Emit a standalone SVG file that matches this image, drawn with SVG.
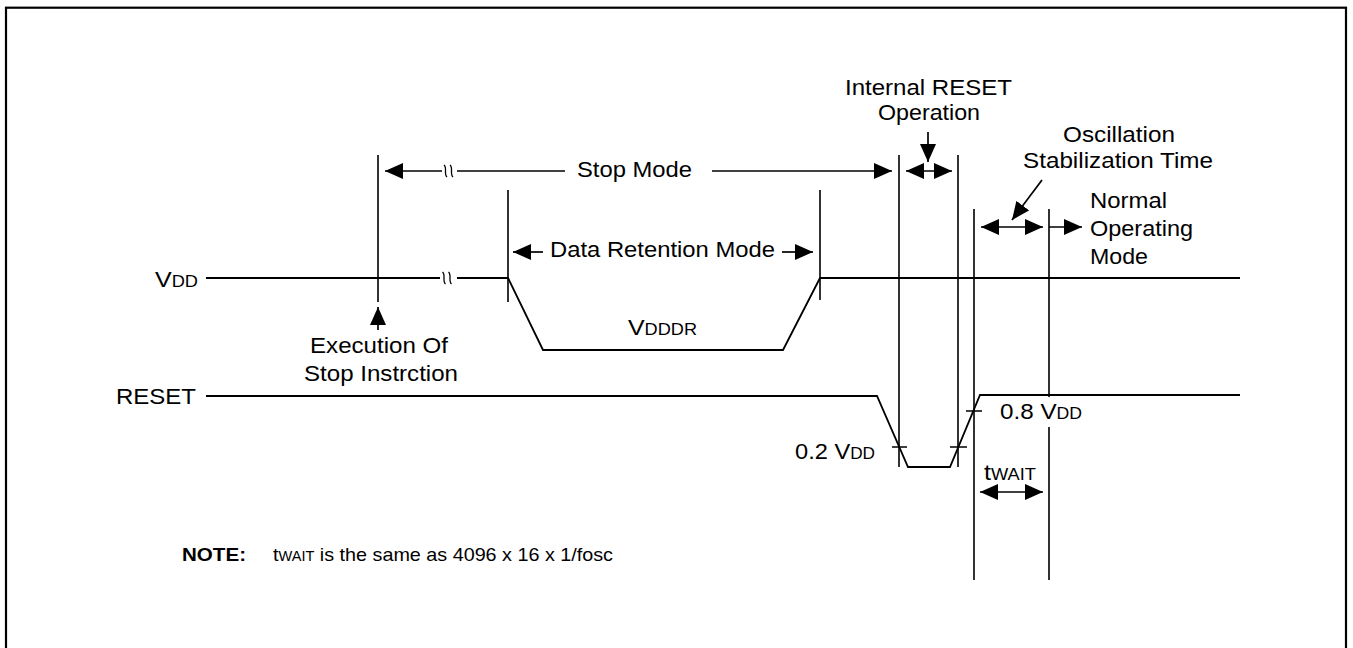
<svg xmlns="http://www.w3.org/2000/svg" width="1353" height="648" viewBox="0 0 1353 648">
<style>
text{font-family:"Liberation Sans",Arial,sans-serif;font-size:22px;fill:#000}
.sm{font-size:16px}
.note{font-size:19px}
.b{font-weight:bold}
.sig{fill:none;stroke:#000;stroke-width:1.8}
.v{fill:none;stroke:#000;stroke-width:1.6}
.arr{fill:none;stroke:#000;stroke-width:1.7}
.sq{fill:none;stroke:#000;stroke-width:1.3}
</style>
<defs>
<marker id="ah" viewBox="0 0 18 16" refX="18" refY="8" markerWidth="18" markerHeight="16" markerUnits="userSpaceOnUse" orient="auto-start-reverse">
<path d="M0,0 L18,8 L0,16 Z" fill="#000"/>
</marker>
</defs>
<rect x="6" y="7.7" width="1340" height="700" fill="#fff" stroke="#000" stroke-width="2.2"/>

<g id="vdd-signal">
<path class="sig" d="M206,278 H440 M457,278 H508 L543,350 H783 L820,278 H1240"/>
<path class="sq" d="M442.5,272 C446,275 442,281 445.5,284 M448.5,272 C452,275 448,281 451.5,284"/>
<text x="155" y="287" textLength="43" lengthAdjust="spacingAndGlyphs">V<tspan class="sm">DD</tspan></text>
<text x="628" y="335" textLength="69" lengthAdjust="spacingAndGlyphs">V<tspan class="sm">DDDR</tspan></text>
</g>

<g id="reset-signal">
<path class="sig" d="M206,396 H877 L908,467 H950 L980,395 H1240"/>
<text x="116" y="404" textLength="80" lengthAdjust="spacingAndGlyphs">RESET</text>
<path class="v" d="M892,447 H907 M950,447 H967 M966,411 H982"/>
<text x="795" y="459" textLength="80" lengthAdjust="spacingAndGlyphs">0.2 V<tspan class="sm">DD</tspan></text>
<text x="1000" y="419" textLength="82" lengthAdjust="spacingAndGlyphs">0.8 V<tspan class="sm">DD</tspan></text>
</g>

<g id="connectors">
<path class="v" d="M378,155 V302 M508,190 V302 M820,190 V300 M899,155 V467 M958,155 V467 M974,209 V580 M1049,209 V397 M1049,427 V580"/>
<line class="arr" x1="385" y1="171" x2="442" y2="171" marker-start="url(#ah)"/>
<path class="sq" d="M444,165 C447.5,168 443.5,174 447,177 M450,165 C453.5,168 449.5,174 453,177"/>
<line class="arr" x1="457" y1="171" x2="565" y2="171"/>
<line class="arr" x1="712" y1="171" x2="892" y2="171" marker-end="url(#ah)"/>
<line class="arr" x1="513" y1="252" x2="543" y2="252" marker-start="url(#ah)"/>
<line class="arr" x1="782" y1="252" x2="813" y2="252" marker-end="url(#ah)"/>
<line class="arr" x1="906" y1="171" x2="952" y2="171" marker-start="url(#ah)" marker-end="url(#ah)"/>
<line class="arr" x1="928" y1="132" x2="928" y2="162" marker-end="url(#ah)"/>
<line class="arr" x1="378" y1="330" x2="378" y2="307" marker-end="url(#ah)"/>
<line class="arr" x1="981" y1="227" x2="1043" y2="227" marker-start="url(#ah)" marker-end="url(#ah)"/>
<line class="arr" x1="1049" y1="227" x2="1082" y2="227" marker-end="url(#ah)"/>
<line class="arr" x1="1042" y1="180" x2="1012" y2="220" marker-end="url(#ah)"/>
<line class="arr" x1="980" y1="492" x2="1043" y2="492" marker-start="url(#ah)" marker-end="url(#ah)"/>
</g>

<g id="labels">
<text x="577" y="177" textLength="115" lengthAdjust="spacingAndGlyphs">Stop Mode</text>
<text x="550" y="257" textLength="225" lengthAdjust="spacingAndGlyphs">Data Retention Mode</text>
<text x="310" y="353" textLength="138" lengthAdjust="spacingAndGlyphs">Execution Of</text>
<text x="304" y="381" textLength="154" lengthAdjust="spacingAndGlyphs">Stop Instrction</text>
<text x="845" y="95" textLength="167" lengthAdjust="spacingAndGlyphs">Internal RESET</text>
<text x="878" y="120" textLength="102" lengthAdjust="spacingAndGlyphs">Operation</text>
<text x="1063" y="142" textLength="112" lengthAdjust="spacingAndGlyphs">Oscillation</text>
<text x="1023" y="168" textLength="190" lengthAdjust="spacingAndGlyphs">Stabilization Time</text>
<text x="1090" y="208" textLength="77" lengthAdjust="spacingAndGlyphs">Normal</text>
<text x="1090" y="236" textLength="103" lengthAdjust="spacingAndGlyphs">Operating</text>
<text x="1090" y="264" textLength="58" lengthAdjust="spacingAndGlyphs">Mode</text>
<text x="984" y="480" textLength="52" lengthAdjust="spacingAndGlyphs">t<tspan class="sm">WAIT</tspan></text>
</g>

<g id="note">
<text class="note b" x="182" y="561" textLength="64" lengthAdjust="spacingAndGlyphs">NOTE:</text>
<text class="note" x="273" y="561" textLength="340" lengthAdjust="spacingAndGlyphs">t<tspan font-size="14">WAIT</tspan> is the same as 4096 x 16 x 1/fosc</text>
</g>
</svg>
